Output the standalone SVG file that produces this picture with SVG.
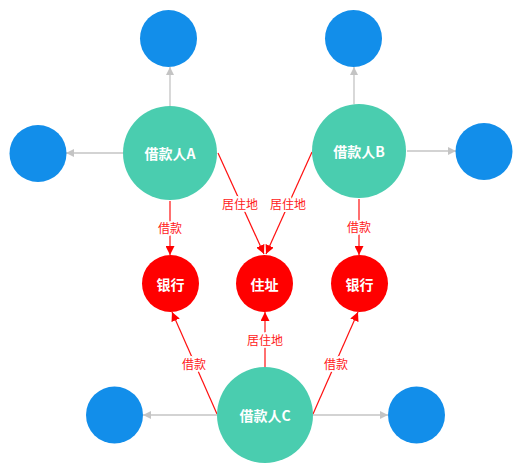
<svg xmlns="http://www.w3.org/2000/svg" width="531" height="474" viewBox="0 0 531 474">
<style>
.blue{fill:#128EEA}
.teal{fill:#4ACDAF}
.red{fill:#FF0000}
.gray{stroke:#C4C4C4;stroke-width:1.3;fill:none}
.rl{stroke:#FF1010;stroke-width:1.2;fill:none}
.nt{fill:#fff;font-family:"Noto Sans CJK SC","Liberation Sans",sans-serif;font-weight:bold;font-size:14px;text-anchor:middle;dominant-baseline:central}
.el{fill:#FF2020;font-family:"Noto Sans CJK SC","Liberation Sans",sans-serif;font-size:12px;text-anchor:middle;dominant-baseline:central;stroke:#fff;stroke-width:4px;paint-order:stroke;stroke-linejoin:round}
</style>
<defs>
<marker id="ag" viewBox="0 0 10 10" refX="10" refY="5" markerWidth="8" markerHeight="8" markerUnits="userSpaceOnUse" orient="auto"><path d="M0,0L10,5L0,10z" fill="#C4C4C4"/></marker>
<marker id="ar" viewBox="0 0 10 10" refX="10" refY="5" markerWidth="9" markerHeight="9" markerUnits="userSpaceOnUse" orient="auto"><path d="M0,0L10,5L0,10z" fill="#FF0000"/></marker>
</defs>
<g id="connectors">
<line class="gray" x1="170" y1="106" x2="170" y2="67" marker-end="url(#ag)"/>
<line class="gray" x1="123" y1="153" x2="66" y2="153" marker-end="url(#ag)"/>
<line class="gray" x1="354" y1="104" x2="354" y2="67" marker-end="url(#ag)"/>
<line class="gray" x1="407" y1="151" x2="456" y2="151" marker-end="url(#ag)"/>
<line class="gray" x1="217" y1="415" x2="143" y2="415" marker-end="url(#ag)"/>
<line class="gray" x1="313" y1="415" x2="388" y2="415" marker-end="url(#ag)"/>
<line class="rl" x1="170" y1="201" x2="170" y2="255" marker-end="url(#ar)"/>
<line class="rl" x1="218" y1="153" x2="264" y2="254" marker-end="url(#ar)"/>
<line class="rl" x1="312" y1="152" x2="266" y2="254" marker-end="url(#ar)"/>
<line class="rl" x1="359" y1="199" x2="359" y2="255" marker-end="url(#ar)"/>
<line class="rl" x1="217" y1="414" x2="172" y2="312" marker-end="url(#ar)"/>
<line class="rl" x1="265" y1="368" x2="265" y2="312" marker-end="url(#ar)"/>
<line class="rl" x1="313" y1="414" x2="358" y2="312" marker-end="url(#ar)"/>
<text class="el" x="170" y="227">借款</text>
<text class="el" x="240" y="203">居住地</text>
<text class="el" x="288" y="203">居住地</text>
<text class="el" x="359" y="226">借款</text>
<text class="el" x="194" y="363">借款</text>
<text class="el" x="265" y="339">居住地</text>
<text class="el" x="336" y="363">借款</text>
</g>
<g id="borrowerA"><circle class="teal" cx="170" cy="153" r="47"/><text class="nt" x="170" y="153">借款人A</text></g>
<g id="borrowerB"><circle class="teal" cx="359" cy="151" r="47"/><text class="nt" x="359" y="151">借款人B</text></g>
<g id="borrowerC"><circle class="teal" cx="265" cy="415" r="48"/><text class="nt" x="265" y="415">借款人C</text></g>
<g id="bank1"><circle class="red" cx="170.5" cy="283.5" r="28.5"/><text class="nt" x="170.5" y="283.5">银行</text></g>
<g id="address"><circle class="red" cx="264.5" cy="283.5" r="28.5"/><text class="nt" x="264.5" y="283.5">住址</text></g>
<g id="bank2"><circle class="red" cx="359.5" cy="283.5" r="28.5"/><text class="nt" x="359.5" y="283.5">银行</text></g>
<g id="blueA_top"><circle class="blue" cx="168.5" cy="38.5" r="28.5"/></g>
<g id="blueA_left"><circle class="blue" cx="38" cy="153.5" r="28.5"/></g>
<g id="blueB_top"><circle class="blue" cx="353.5" cy="38.5" r="28.5"/></g>
<g id="blueB_right"><circle class="blue" cx="484" cy="151.5" r="28.5"/></g>
<g id="blueC_left"><circle class="blue" cx="114.5" cy="415" r="28.5"/></g>
<g id="blueC_right"><circle class="blue" cx="416.5" cy="415" r="28.5"/></g>
</svg>
